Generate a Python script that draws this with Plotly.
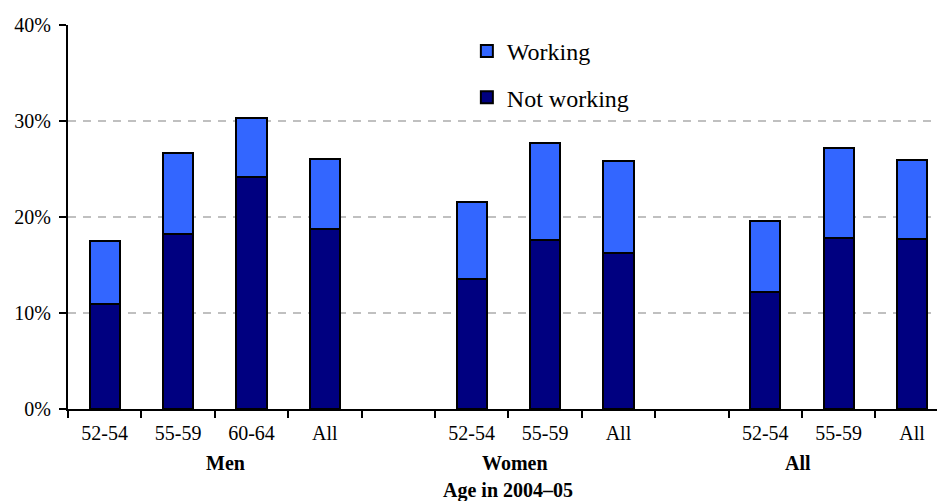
import plotly.graph_objects as go

# Data
positions = [0, 1, 2, 3, 5, 6, 7, 9, 10, 11]
tick_labels = ["52-54", "55-59", "60-64", "All", "52-54", "55-59", "All", "52-54", "55-59", "All"]
not_working = [10.9, 18.2, 24.2, 18.7, 13.5, 17.6, 16.3, 12.2, 17.8, 17.7]
totals = [17.5, 26.7, 30.3, 26.0, 21.6, 27.7, 25.8, 19.55, 27.2, 25.9]
working = [round(t - n, 2) for t, n in zip(totals, not_working)]
group_labels = ["Men", "Women", "All"]
group_label_x = [1.64, 5.59, 9.45]
y_ticks = [0, 10, 20, 30, 40]

FONT = "Liberation Serif"

fig = go.Figure()
fig.add_trace(go.Bar(
    x=positions, y=not_working, name="Not working", legendgroup="nw",
    legendrank=2,
    marker=dict(color="#000080", line=dict(color="black", width=2)),
    width=0.41,
))
fig.add_trace(go.Bar(
    x=positions, y=working, name="Working", legendgroup="w",
    legendrank=1,
    marker=dict(color="#3366FF", line=dict(color="black", width=2)),
    width=0.41,
))

annotations = []
for lbl, gx in zip(group_labels, group_label_x):
    annotations.append(dict(
        text="<b>%s</b>" % lbl, x=gx, xref="x", y=0, yref="paper",
        yshift=-54, showarrow=False, yanchor="middle", xanchor="center",
        font=dict(family=FONT, size=20, color="black"),
    ))
annotations.append(dict(
    text="<b>Age in 2004–05</b>", x=5.5, xref="x", y=0, yref="paper",
    yshift=-81, showarrow=False, yanchor="middle", xanchor="center",
    font=dict(family=FONT, size=20, color="black"),
))

fig.update_layout(
    width=937, height=501,
    barmode="stack",
    plot_bgcolor="white", paper_bgcolor="white",
    margin=dict(l=68, r=0, t=25, b=92, autoexpand=False),
    font=dict(family=FONT, size=20, color="black"),
    showlegend=True,
    legend=dict(
        x=0.459, y=0.99, xanchor="left", yanchor="top",
        traceorder="grouped", tracegroupgap=12,
        font=dict(family=FONT, size=24, color="black"),
        bgcolor="rgba(0,0,0,0)",
    ),
    annotations=annotations,
    bargap=0,
)
fig.update_xaxes(
    range=[-0.5, 11.34], automargin=False,
    tickmode="array", tickvals=positions, ticktext=tick_labels,
    ticks="", ticklen=0,
    showline=True, linecolor="black", linewidth=2,
    showgrid=False, zeroline=False,
    tickfont=dict(family=FONT, size=20, color="black"),
    minor=dict(tick0=-0.5, dtick=1, ticks="outside", ticklen=7, tickwidth=2,
               tickcolor="black", showgrid=False),
    ticklabelstandoff=5,
)
fig.update_yaxes(
    range=[0, 40], automargin=False, tickmode="array", tickvals=y_ticks,
    ticktext=["%d%%" % v for v in y_ticks],
    ticks="outside", ticklen=7, tickwidth=2, tickcolor="black",
    showline=True, linecolor="black", linewidth=2,
    showgrid=True, gridcolor="#C0C0C0", gridwidth=2, griddash="8px,7px",
    zeroline=False,
    tickfont=dict(family=FONT, size=20, color="black"),
    ticklabelstandoff=4,
)

fig.write_html(
    "out.html",
    config={"displayModeBar": False},
    post_script="document.body.style.margin='0';document.body.style.padding='0';",
)
